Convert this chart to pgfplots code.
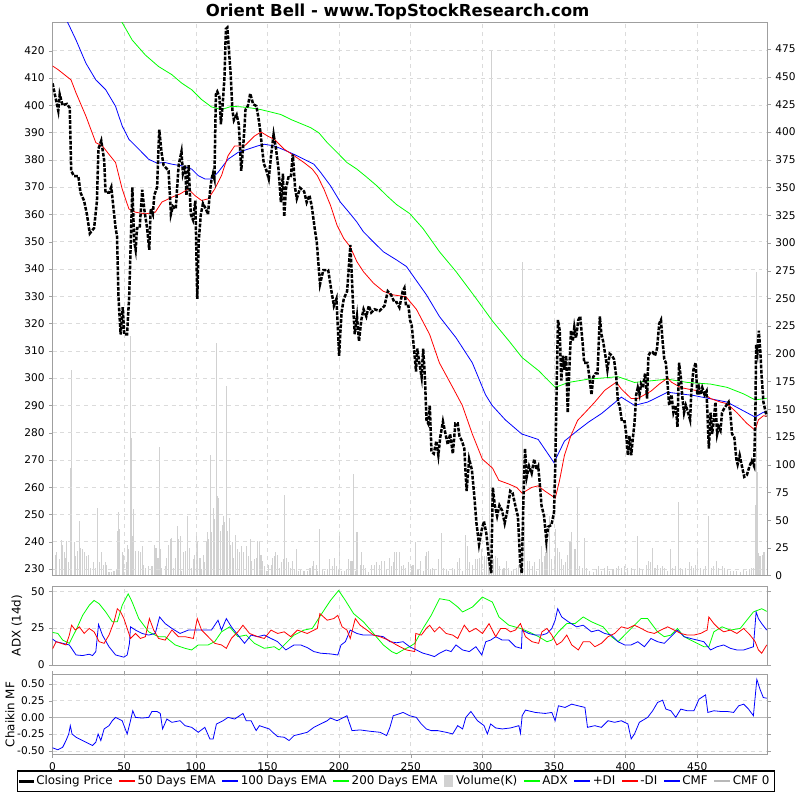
\documentclass[border=0pt]{standalone}
\usepackage{pgfplots}
\pgfplotsset{compat=1.18}
\usepackage{fontspec}
\setmainfont{DejaVu Sans}
\definecolor{emagreen}{rgb}{0,1,0}
\definecolor{volgray}{rgb}{0.82,0.82,0.82}
\definecolor{legred}{rgb}{1,0,0}
\definecolor{legblue}{rgb}{0,0,1}
\definecolor{leggray}{rgb}{0.72,0.72,0.72}
\pgfplotsset{
  panel/.style={scale only axis, width=540.75pt, xmin=0, xmax=499,
    axis line style={gray!75}, tick style={gray!75}, major tick length=2.5pt,
    tick align=outside, xtick={0,50,...,450},
    tick label style={font=\fontsize{8}{9}\selectfont},
    /pgf/number format/assume math mode=true, clip=true},
  gridded/.style={grid=major, grid style={dashed, gray!28, line width=0.4pt}},
}
\begin{document}
\begin{tikzpicture}
\fill[white] (0pt,0pt) rectangle (600pt,-600pt);
\node[font=\bfseries\fontsize{12.5}{14}\selectfont] at (300.75pt,-9pt) {Orient Bell - www.TopStockResearch.com};

% ---------- volume (right axis) ----------
\begin{axis}[panel, at={(39.75pt,-16.5pt)}, anchor=north west, height=418.5pt,
  ymin=0, ymax=499, ytick={0,25,...,475}, axis y line*=right, axis x line=none]
\addplot[ycomb, volgray, line width=0.8pt] coordinates {
(2,19) (3,21) (5,15) (6.4,32) (7.1,28) (8.3,21) (9,16) (9.9,31) (11.3,12) (12.2,97) (13.4,185) (15.2,30) (15.9,18) (17.5,22) (18.7,49) (19.8,25) (21,24) (22.1,21) (23.7,18) (25.1,19) (26.7,7) (28.3,12) (29.7,7) (31.3,61) (32.5,12) (34.1,21) (35.3,10) (36.7,12) (37.6,10) (39.4,3) (41,3) (42.9,4) (44.5,6) (45.2,40) (46.3,57) (47,42) (48.6,21) (49.8,19) (51.4,12) (52.3,28) (53.3,24) (54.2,216) (54.9,124) (55.6,36) (56.7,60) (57.9,22) (59.7,22) (61.3,21) (62.5,27) (63.6,10) (64.8,7) (67.1,9) (69.4,9) (71.3,28) (72.2,25) (73.6,16) (74.5,116) (75.2,24) (76.3,7) (78.6,9) (79.8,16) (80.9,28) (82.1,33) (82.8,34) (84.4,7) (85.6,16) (87.2,45) (87.9,33) (89,36) (90.2,4) (91.3,21) (92.5,22) (94.3,54) (95.9,25) (97.1,7) (98.3,15) (99.4,19) (100.6,39) (101.2,30) (102.9,16) (104,6) (105.2,19) (106.3,12) (107.5,30) (108.2,39) (109.1,33) (110.3,109) (111,39) (112.1,61) (113.3,51) (114.4,210) (115.1,72) (116,70) (117.2,40) (118.3,46) (119.5,54) (120.2,48) (121.3,171) (122,40) (123.2,52) (124.3,28) (125.5,30) (126.6,16) (127.5,37) (128.9,24) (130.5,21) (132.2,27) (133.5,21) (135.2,27) (136.8,18) (138.2,33) (139.1,13) (140.9,15) (142.1,16) (143.2,31) (144.4,30) (145.5,19) (146.7,13) (147.8,9) (149.7,4) (150.6,10) (152.5,10) (153.6,16) (154.8,18) (155.9,21) (157.1,19) (158.2,7) (159.8,12) (161,15) (162.1,73) (163.3,16) (164.4,12) (166.3,7) (167.7,13) (169.1,6) (170.2,24) (171.6,4) (173.2,6) (175.5,4) (177.8,4) (179.7,7) (181.3,9) (182.4,13) (184.1,10) (185.2,4) (186.4,42) (188.2,6) (189.8,4) (191.7,6) (193.5,15) (195.1,9) (196.8,16) (198.1,9) (199.7,6) (200.4,37) (202,4) (203.7,4) (205,6) (206.7,15) (207.8,13) (209,13) (209.9,92) (211.3,4) (212,39) (213.1,39) (214.7,10) (215.9,21) (217,10) (218.2,7) (220.5,3) (222.8,10) (224.4,10) (226.3,12) (228.1,10) (229.7,13) (231.4,13) (233.2,6) (235,16) (236.7,9) (237.8,12) (239,21) (240.1,21) (242,21) (243.6,9) (244.7,10) (246.6,7) (248.2,12) (250.5,9) (251.6,10) (253.5,30) (255.1,6) (256.7,13) (258.6,4) (260.4,18) (261.3,21) (262.7,22) (263.6,6) (265,7) (266.6,6) (269.6,15) (271.2,38) (272.9,7) (274.7,6) (276.5,4) (278.9,7) (280.5,6) (282.8,12) (283.9,16) (286.2,4) (288.1,37) (289.7,27) (291.3,12) (293.2,10) (295.5,15) (296.6,15) (298.2,16) (299.6,24) (301.2,18) (302.8,18) (304.2,16) (305.2,139) (306.2,474) (308.1,15) (309.3,18) (310.5,16) (312.1,9) (313.9,6) (315.1,7) (316.7,13) (318.5,7) (320.4,4) (322,6) (323.6,7) (325.5,10) (326.6,4) (328.2,283) (329.6,48) (331.2,13) (332.8,13) (334.7,9) (336.5,12) (338.1,4) (339.8,15) (341.1,27) (342.3,12) (343.4,18) (344.4,21) (345.1,28) (345.8,28) (346.7,54) (348.5,15) (350.4,15) (351.3,42) (352.7,25) (353.6,21) (355,15) (356.6,10) (358.2,12) (359.6,19) (361.2,30) (362.4,39) (364.2,24) (365.1,24) (366.5,80) (368.1,9) (369.7,7) (371.1,34) (372.7,7) (375,4) (377.4,3) (379.7,6) (381.3,9) (383.1,4) (385,7) (387.3,9) (388.9,4) (391.2,6) (393.5,7) (395.1,9) (397,7) (399.3,9) (401.6,7) (403.9,7) (406.2,6) (408,36) (409.7,7) (412,6) (414.3,10) (415.9,13) (417.3,12) (418.9,25) (420.5,7) (422.3,10) (424.2,7) (425.8,9) (427.4,7) (429.3,4) (431.1,24) (432.7,7) (435,9) (436.6,66) (438,7) (439.6,6) (441.9,7) (444.3,12) (445.9,9) (447.7,7) (448.9,10) (450.5,22) (452.3,7) (454.2,6) (455.8,9) (458.1,54) (459.7,7) (461.6,9) (463.4,13) (465,7) (467.3,9) (468.9,7) (470.8,6) (473.1,4) (475.4,4) (477.7,4) (480,3) (482.3,6) (484.6,4) (486.5,6) (488.1,7) (489.2,7) (490.5,64) (491.1,274) (492,93) (493,20) (493.8,18) (495.7,19) (496.6,21)
};
\end{axis}

% ---------- price (left axis) ----------
\begin{axis}[panel, gridded, at={(39.75pt,-16.5pt)}, anchor=north west, height=418.5pt,
  ymin=227.6, ymax=430.4, ytick={230,240,...,420}, axis y line*=left,
  xticklabels={}, xtick style={draw=none}]
\addplot[emagreen, line width=0.6pt] coordinates {
(0,476) (20,454) (48.6,430.3) (55.6,423.9) (64.8,418.4) (74,414.2) (83.3,411.2) (90.2,408.1) (97.1,405.7) (104,402.1) (110.9,399.4) (117.9,398.4) (124.8,399.6) (131.7,399.4) (138.6,399) (145.5,398.4) (152.5,397.5) (159.4,396.6) (166.3,394.8) (173.2,393.3) (180.1,391.8) (185.9,389.9) (191.7,386.3) (198.6,382.7) (205.5,379) (212.4,376.6) (219.4,373.6) (226.3,370.5) (233.2,366.9) (240.1,363.6) (249.3,360.3) (258.6,354.8) (270.1,346.3) (281.7,339) (295.5,329.3) (307.1,320.9) (318.6,313.6) (327.8,307.5) (339.3,302.7) (350.9,296.6) (360.1,298.4) (373.9,299.6) (394.7,300.5) (406.2,298.4) (429.3,299.6) (443.1,298.4) (459.3,297.8) (470.8,296.6) (482.4,294.2) (490.4,292) (498.5,292.6)
};
\addplot[blue, line width=0.6pt] coordinates {
(0,442) (10.6,430.3) (16.4,423.9) (23.3,415.4) (30.2,409.3) (37.1,405.7) (44,399.6) (48.6,392.4) (53.3,387.5) (60.2,383.9) (67.1,380.2) (72.9,378.8) (78.6,379) (83.3,378.4) (90.2,377.8) (97.1,376.6) (101.7,374.2) (106.3,373) (110.9,373) (115.5,375.4) (122.5,380.2) (129.4,382.7) (136.3,383.9) (143.2,385.1) (147.8,385.7) (154.8,385.1) (161.7,383.6) (168.6,382) (175.5,380.2) (182.4,378.4) (187.1,375.4) (194,370.5) (200.9,364.5) (207.8,360.2) (212.4,357.2) (217,353.6) (224,349.9) (230.9,346.3) (240.1,343.3) (247,340.9) (261,330.5) (270,322.6) (281.6,314.8) (293,305.6) (302.2,293.9) (306.8,290) (316,284.7) (327.5,279.5) (339,277.5) (350,269) (357.3,276.9) (366.5,280.8) (374.5,284) (383.2,287) (397,293) (406.2,290) (415.4,291.2) (429.3,294.8) (447.8,293.6) (470.8,291.2) (490.4,285.7) (496.2,287.5) (498.5,287)
};
\addplot[red, line width=0.6pt] coordinates {
(0,414.4) (4,413) (12.9,409.3) (16.4,404.5) (23.3,396) (30.2,386.3) (34.8,385.1) (39.4,382) (44,379) (48.6,369.3) (53.3,362) (57.9,360.8) (64.8,360.2) (71.7,360.8) (76.3,364.5) (83.3,366.3) (89,367.5) (94.8,369.3) (99.4,366.9) (104,365.1) (108.6,365.7) (113.2,369.3) (117.9,374.2) (122.5,381.5) (127.1,385.1) (134,385.1) (140.9,388.7) (145.5,390.2) (150.2,388.7) (154.8,387.5) (161.7,383.9) (168.6,381.5) (175.5,379) (181.3,376.6) (184.8,374.2) (189.4,369.3) (194,363.3) (198.6,356) (203.2,351.2) (207.8,348.1) (212.4,342.7) (217,339) (224,334.8) (230.9,331.8) (237.8,330.5) (246.7,329.8) (254,325.2) (263.2,316) (270,305.6) (279.4,296.5) (286,290) (293,279.5) (300,270.3) (307.1,267) (311.5,262.5) (318.3,261.2) (324,259.9) (327.8,257.8) (334.4,259.9) (339,260.5) (343.6,258.6) (350.9,256) (353.9,262.5) (357.3,271.7) (361.9,279) (366.5,284.5) (371.6,287.3) (378.5,291.2) (385.4,295.5) (393.5,298.5) (397,296) (403.9,292.5) (408.5,292.5) (417.7,295.2) (423.5,297.8) (429.3,300) (432,298.5) (438.5,296.5) (445.4,295.8) (452.3,295.2) (459.3,292.5) (466.2,291.2) (470.8,290.6) (477.7,287.3) (484.6,283.4) (490.4,280.9) (492.7,284.7) (496.2,286.2) (498.5,286)
};
\addplot[black, line width=1.9pt, dash pattern=on 2.8pt off 1.1pt] coordinates {
(0,408) (1.6,404) (4,398) (5,404) (7,400) (10,400.5) (12,399) (13,376) (15,374) (18,374) (19.5,368) (22,365) (24,360) (26,353) (29,355) (31,365) (32,384) (34,387) (36,380) (37,368) (39.5,368) (41,370) (42.6,362) (44,355) (45,352) (46,330) (47.5,316) (49,326) (50,316) (52,316) (53.5,330) (55.7,370) (57,350) (58,347) (59,355) (60.8,355) (62.6,369) (64,362) (66,355) (67.5,347) (68.5,362) (70,360) (71,367) (73,370) (74,385) (74.5,391) (76,383) (77.5,378) (81,376) (82.6,360) (84,363) (86,362) (88,378) (90,383) (91,375) (92.5,378) (93.5,367) (95,378) (96.5,360) (98,358) (99.7,365) (101,329) (102,350) (103.5,360) (105,364) (107,362) (108.5,360) (110,369) (111,373) (112,375) (113,373) (114,404) (115,405) (116.5,403) (117.5,393) (118.7,400) (120,410) (121,428)
(122,428.5) (124.3,411.5) (125.5,398.4) (126.6,394.5) (128.5,396.5) (130,393) (131.7,376) (133.5,388) (134.7,398.4) (136.3,399.7) (138,404.3) (140,400.4) (142.3,399.7) (144,394.5) (145,390.6) (147.4,378.8) (149.3,376) (150.9,373) (152.5,381.4) (154.3,389.3) (156,384) (157.8,376.2) (159.4,364.4) (160.8,374.9) (161.7,359.2) (163,369.7) (164.7,373.6) (166.3,373.6) (167.7,382) (169.3,369.7) (170.5,365.8) (172.8,369.7) (175.6,368.4) (177.4,364.4) (179.3,367) (180.9,363.1) (183.2,354) (184.4,350) (186.7,334.4) (189,339.6) (192.4,339.6) (194.7,331.8) (196.4,326.5) (198.2,329.1) (200,308.2) (201.7,324) (203.3,329.1) (205.6,331.8) (207.9,348.8) (209.8,326.5) (210.9,316.1) (212.5,322.6) (213.9,313.5) (215.5,321.3) (217.1,325.2) (219,322.6) (220.8,326.5) (222.5,324) (224.8,325.2) (228.2,324.6) (231.7,326.5) (234,331.8) (236.3,330.5) (238.6,327.8) (240.2,327.8) (242.1,325.9) (244.4,331.8) (245.6,333) (246.7,326.5) (248.4,326.5)
(249.5,321.3) (250.7,319.3) (252.3,310.8) (253.7,302.4) (254.6,310.8) (256,305.6) (257.6,300.4) (258.7,310.8) (259.9,300.4) (261,284.7) (262.2,283.4) (263.3,290) (264.5,273) (266.1,272.3) (267.9,276.9) (269.3,271.7) (270.6,278.3) (272.5,284.1) (274.3,279.5) (275.9,275.6) (277.5,279.5) (279.4,272.3) (281.2,283.4) (282.8,283.4) (284,278.8) (285.8,276.9) (287.4,274.2) (289,258.6) (290.8,270.3) (292.7,266.4) (294.3,257.3) (295.9,246.8) (297.7,239) (299.5,244.2) (301.1,247.5) (302.8,243) (304.6,233.9) (306.2,228.5) (307.3,259.9) (308.7,253.3) (310.3,249.4) (311.9,253.3) (313.8,251.4) (315.6,246.8) (317.2,250.7) (319.5,258.6) (321.1,257.9) (323,253.3) (324.8,249.4) (326.4,232.4) (327.5,228.5) (328.7,256) (329.8,274.2) (331,263.8) (332.6,267.7) (334.4,265.1) (336.2,270.3) (337.8,266.4) (339,267.7) (340.1,261.2) (341.3,253.3) (343.1,249.4) (344.7,240.3) (345.9,245.5) (348.2,246.1) (350,250.7) (350.9,267.7) (351.9,297.8) (352.8,321.3) (354,317.4) (355.1,299.1) (356.2,308.2) (357.3,303) (358.5,308.2) (359.6,287.3) (360.8,304.3) (361.9,317.4) (363.1,313.5) (364.2,318.7) (365.4,314.8) (367,321.3) (368.3,322.6) (369.9,313.5) (371.1,305.6)
(373.4,305.6) (375,299.1) (376.2,293.9) (377.4,300.4) (379,301.7) (380.4,301.7) (382,322.6) (383.1,316.1) (384.3,313.5) (385.9,308.2) (387.3,303) (388.9,308.9) (390.5,308.2) (391.9,306.9) (393.5,300.4) (394.7,291.2) (395.8,290) (397.4,284.1) (399.3,284.1) (400.4,279.5) (401.6,271.7) (402.7,278.8) (403.9,271.7) (405.1,278.2) (406.2,283.4) (407.4,293.9) (408.5,296.5) (409.7,293.9) (410.8,297.8) (412,296.5) (413.6,301.7) (415,292.5) (415.9,308.2) (417.3,309.5) (418.9,309.5) (420.5,308.2) (421.9,310.8) (423.5,320) (424.7,321.3) (425.8,313.5) (427,306.9) (428.1,305.6) (429.3,297.8) (430.4,290) (432,293.9) (433.4,287.3) (435,290) (436.2,282.1) (437.3,305.6) (438.5,300.4) (439.7,292.5) (440.8,287.3) (442,290) (443.6,287.3) (445,284.7) (445.9,295.2) (447.3,303) (448.9,305.6) (450,293.9) (451.2,296.5) (452.3,293.9) (453.5,296.5) (455.1,293.9) (456.5,295.2) (458.1,274.2) (459.3,287.3) (460.4,279.5) (461.6,284.7) (462.7,291.2) (463.9,279.5) (465,282.1) (466.2,280.8) (467.3,287.3) (468.5,288.6) (470.3,290) (471.9,291.2) (473.1,287.3) (474.3,279.5) (475.9,278.2) (477.3,270.3) (478.2,268.4) (479.6,271.7) (481.2,267.7) (482.8,263.8) (484.6,264.4) (486.5,267.7) (488.1,269.7) (489.7,267.7) (490.6,287.3) (491.1,312.2) (492,309.5) (493,317.4) (493.9,310.8) (495,300.4) (496.2,291.2) (497.3,288.6) (498.5,286)
};
\end{axis}

% ---------- ADX ----------
\begin{axis}[panel, gridded, at={(39.75pt,-443pt)}, anchor=north west, height=59.5pt,
  ymin=0, ymax=53.4, ytick={0,25,50}, xticklabels={}, xtick style={draw=none},
  ylabel={ADX (14d)}, ylabel style={at={(axis description cs:-0.0499,0.5)}, anchor=center, font=\fontsize{9}{10}\selectfont}]
\addplot[emagreen, line width=0.6pt] coordinates {
(0,22) (3.7,21.3) (7.1,16.8) (11.7,14.6) (16.4,23.6) (21,33.6) (25.6,40.4) (29,43.7) (32.5,41.5) (37.1,35.9) (41.7,29.2) (45.2,29.2) (48.6,40.4) (52.8,48.2) (55.6,42.6) (60.2,31.4) (67.1,22.4) (74,19.1) (78.6,19.1) (85.6,13.5) (92.5,11.2) (97.1,10.1) (101.7,13.5) (108.6,13.5) (113.2,15.7) (117.9,22.4) (123.6,25.8) (129.4,19.1) (135.2,20.2) (140.9,14.6) (147.8,11.2) (154.8,12.3) (158.2,10.1) (162.8,14.6) (168.6,20.2) (175.5,23.6) (181.3,24.7) (187.1,33.6) (194,43.7) (199.7,50.5) (204.4,43.7) (210.1,34.8) (217,29.2) (224,21.3) (230.9,13.5) (236.7,9) (240.1,7.5) (244.7,10.1) (249.3,12.3) (252.8,14.6) (258.6,24.7) (264.3,33.6) (270.1,44.9) (277,43.7) (282.8,39.3) (286.2,35.9) (293.2,39.3) (300.1,46) (307,42.6) (311.6,32.5) (318.5,26.9) (326.6,24.7) (332.4,22.4) (339.3,19.1) (345.1,15.7) (348.5,16.8) (353.1,22.4) (358.9,28) (364.7,28) (370.4,32.5) (376.2,29.2) (384.3,25.8) (390.1,19.1) (394.7,15.7) (399.3,20.2) (405,25.8) (410.8,31.4) (415.4,31.4) (422.3,22.4) (427,19.1) (431.6,20.2) (436.2,24.7) (440.8,19.1) (447.7,15.7) (454.6,12.3) (458.1,12.3) (461.6,22.4) (467.3,25.8) (473.1,23.6) (480,24.7) (484.6,30.3) (489.2,35.9) (495,38.1) (498.5,36.3)
};
\addplot[blue, line width=0.6pt] coordinates {
(0,17.5) (2.5,15.7) (7.1,14.6) (11.7,13.5) (16.4,6.7) (21,6.3) (25.6,7.2) (27.9,6.3) (30.2,9) (32.1,27.4) (34.8,20.2) (39.4,12.3) (44,6.7) (49.8,5.2) (52.1,6.7) (53.7,14.6) (54.4,25.8) (57.9,23.6) (62.5,21.3) (67.1,20.2) (71.7,21.3) (74.7,32.5) (78.6,28) (83.3,24.7) (89,21.3) (94.8,23.6) (100.6,23.6) (110.9,23.6) (115.5,30.3) (117.9,23.6) (121.3,31.4) (124.8,25.8) (129.4,20.2) (134,14.6) (138.6,20.2) (143.2,19.1) (147.8,20.2) (152.5,17.9) (157.1,15.7) (162.8,10.1) (168.6,13.5) (173.2,13.5) (177.8,11.7) (182.4,9) (187.1,7.9) (194,7.4) (199.1,6.7) (201.4,13.5) (204.4,15.7) (207.8,23.6) (212.4,21.3) (217,20.2) (224,20.2) (230.9,19.1) (235.5,15.7) (240.1,15) (244.7,15.7) (249.3,12.3) (253.9,10.1) (258.6,7.9) (263.2,6.7) (266.6,5.6) (270.1,7.9) (274.7,10.1) (278.2,9) (281.6,13.5) (286.2,10.1) (290.9,9) (295.5,12.3) (299.6,6.7) (302.4,15.7) (305.8,16.8) (309.3,19.1) (313.9,16.8) (318.5,16.8) (323.1,12.3) (327.3,11.2) (327.8,23.6) (332.4,21.3) (337,20.2) (341.6,20.2) (345.1,21.3) (348.5,24.7) (350.8,30.3) (352.6,38.1) (355.4,32.5) (360.1,29.2) (365.8,25.8) (370.4,26.9) (376.2,22.4) (380.8,23.6) (385.4,21.3) (390.1,20.2) (394.7,15.7) (399.3,13.5) (403.9,13.5) (408.5,15.7) (413.1,12.3) (417.7,17.9) (422.3,15.7) (427,14.6) (431.6,19.1) (436.2,23.6) (440.8,19.1) (445.4,17.9) (450,16.8) (454.6,15.7) (459.3,10.1) (463.9,12.3) (468.5,13.5) (473.1,11.2) (477.7,10.1) (482.4,10.1) (489.2,12.3) (491.1,35.9) (492.7,31.4) (495,28) (498.5,23.6)
};
\addplot[red, line width=0.6pt] coordinates {
(0,10.8) (2.5,15.7) (6,14.6) (9.4,13.5) (11.7,20.2) (13.3,26.9) (15.9,23.6) (18.7,25.8) (22.1,21.3) (25.6,24.7) (29,22.4) (32.5,15.7) (36,14.6) (39.4,20.2) (42.9,29.2) (45.2,38.1) (47.5,35.9) (49.8,31.4) (52.1,24.7) (54.4,17.9) (57.9,21.3) (61.3,17.9) (64.8,19.1) (67.6,31.4) (70.6,23.6) (74,17.9) (78.6,16.8) (83.3,23.6) (87.9,19.1) (92.5,19.1) (98.3,17.9) (101,31.4) (104,23.6) (108.6,19.1) (113.2,14.6) (117.9,13.5) (121.3,11.2) (124.8,17.9) (129.4,22.4) (132.9,26.9) (137.5,21.3) (143.2,19.1) (147.8,17.9) (152.5,23.6) (157.1,21.3) (161.7,22.4) (166.3,19.1) (170.9,23.6) (177.8,21.3) (184.8,24.7) (186.6,34.8) (191.7,30.3) (196.3,31.4) (199.1,33.6) (202.1,25.8) (205.5,23.6) (207.8,17.9) (211.3,31.4) (214.7,26.9) (219.4,23.6) (224,20.2) (228.6,19.1) (234.4,16.8) (240.1,13.5) (247,10.1) (252.8,9) (253.5,21.3) (257.4,20.2) (260.9,24.7) (263.2,26.9) (266.6,22.4) (270.1,25.8) (274.7,21.3) (279.3,20.2) (282.8,17.9) (287.4,26.9) (290.9,22.4) (295.5,24.7) (300.1,21.3) (304.7,28) (309.3,19.1) (312.8,24.7) (316.2,24.7) (319.7,22.4) (323.1,23.6) (326.6,28) (330.1,19.1) (334.7,15.7) (339.3,14.6) (341.6,22.4) (345.1,24.7) (348.5,20.2) (352,13.5) (355.4,15.7) (358.9,20.2) (362.4,13.5) (367,10.1) (370.4,15.7) (375,15.7) (378.5,12.3) (383.1,14.6) (387.7,19.1) (392.4,21.3) (397,25.8) (401.6,24.7) (406.2,26.9) (410.8,24.7) (415.4,22.4) (420,21.3) (424.6,23.6) (429.3,25.8) (433.9,23.6) (438.5,21.3) (443.1,20.2) (447.7,20.2) (452.3,21.3) (456.9,23.6) (458.1,32.5) (461.6,28) (465,24.7) (468.5,22.4) (473.1,23.6) (477.7,21.3) (482.4,24.7) (486.9,20.2) (490.4,15.7) (492.7,10.1) (495,7.9) (498.5,13.5)
};
\end{axis}

% ---------- CMF ----------
\begin{axis}[panel, gridded, at={(39.75pt,-510pt)}, anchor=north west, height=60.2pt,
  ymin=-0.553, ymax=0.638, ytick={-0.5,-0.25,0,0.25,0.5},
  yticklabel style={/pgf/number format/.cd, fixed, fixed zerofill, precision=2},
  ylabel={Chaikin MF}, ylabel style={at={(axis description cs:-0.0596,0.5)}, anchor=center, font=\fontsize{9}{10}\selectfont},
  legend columns=-1,
  legend style={at={(axis description cs:0.48,-0.339)}, anchor=center, line width=0.9pt,
    font=\fontsize{9}{10}\selectfont, inner sep=1.6pt, row sep=0pt,
    /tikz/every even column/.append style={column sep=3pt}}]
\addplot[gray!55, line width=0.6pt, forget plot] coordinates {(0,0) (499,0)};
\addplot[blue, line width=0.6pt, forget plot] coordinates {
(0,-0.455) (3.7,-0.485) (7.1,-0.446) (9.4,-0.347) (11.3,-0.248) (12.4,-0.124) (13.6,-0.248) (16.4,-0.297) (21,-0.347) (25.6,-0.396) (27.9,-0.421) (30.2,-0.371) (31.8,-0.248) (33.7,-0.347) (36,-0.173) (39.4,-0.124) (41.7,-0.05) (44,0) (46.3,-0.025) (48.6,-0.05) (52.1,-0.248) (54.4,-0.05) (56,0.099) (57.9,0) (62.5,-0.01) (67.1,0) (69.4,0.089) (72.9,0.089) (75.2,0.059) (76.8,-0.173) (79.8,-0.025) (83.3,-0.074) (89,-0.05) (92.5,-0.124) (97.1,-0.149) (101.7,-0.223) (106.3,-0.149) (109.8,-0.322) (112.1,-0.322) (114.4,-0.099) (119,-0.05) (122.5,0) (127.1,-0.025) (132.9,0.059) (135.2,-0.05) (138.6,-0.05) (142.1,-0.198) (144.4,-0.124) (147.8,-0.149) (151.3,-0.173) (153.6,-0.223) (157.1,-0.287) (161.7,-0.297) (165.1,-0.347) (168.6,-0.272) (173.2,-0.248) (177.8,-0.223) (182.4,-0.149) (187.1,-0.099) (191.7,-0.05) (194,-0.01) (198.6,-0.05) (203.2,0) (205.5,0.025) (209,-0.198) (214.7,-0.188) (221.7,-0.208) (228.6,-0.223) (233.2,-0.272) (235.5,-0.149) (237.8,0.025) (240.1,0.04) (244.7,0.074) (249.3,0.025) (253.9,0) (257.4,-0.099) (260.9,-0.173) (264.3,-0.198) (268.9,-0.198) (274.7,-0.223) (279.3,-0.248) (282.8,-0.124) (286.2,-0.173) (288.5,0) (292,0.089) (296.6,-0.05) (301.2,-0.124) (303.5,-0.248) (305.8,-0.099) (309.3,-0.158) (313.9,-0.173) (319.7,-0.158) (325.5,-0.124) (326.6,-0.238) (327.8,0.025) (330.1,0.109) (337,0.074) (343.9,0.059) (348.5,0.074) (350.8,-0.05) (353.1,0.173) (357.7,0.149) (362.4,0.198) (367,0.173) (371.6,0.149) (373.4,-0.149) (378.5,-0.124) (383.1,-0.149) (387.7,-0.05) (392.4,-0.074) (397,-0.05) (401.6,-0.099) (403.9,-0.322) (406.2,-0.248) (409.6,-0.074) (415.4,0) (418.9,0.099) (422.3,0.223) (425.8,0.257) (428.1,0.124) (431.6,0.099) (435,0) (438.5,0.124) (443.1,0.099) (447.7,0.099) (451.2,0.272) (455.8,0.337) (457.4,0.074) (461.6,0.099) (466.2,0.089) (470.8,0.089) (475.4,0.074) (478.9,0.173) (482.4,0.198) (485.8,0.124) (489.2,0.025) (491.6,0.569) (493.8,0.421) (496.1,0.297) (498.5,0.287)
};
\addlegendimage{legend image code/.code={\fill[black] (0pt,-0.6pt) rectangle (2.6pt,0.6pt); \fill[black] (3.7pt,-0.6pt) rectangle (6.3pt,0.6pt); \fill[black] (7.4pt,-0.6pt) rectangle (10pt,0.6pt);}}
\addlegendentry{Closing Price}
\addlegendimage{legend image code/.code={\fill[legred] (0pt,-0.3pt) rectangle (11pt,0.3pt);}}
\addlegendentry{50 Days EMA}
\addlegendimage{legend image code/.code={\fill[legblue] (0pt,-0.3pt) rectangle (11pt,0.3pt);}}
\addlegendentry{100 Days EMA}
\addlegendimage{legend image code/.code={\fill[emagreen] (0pt,-0.3pt) rectangle (11pt,0.3pt);}}
\addlegendentry{200 Days EMA}
\addlegendimage{legend image code/.code={\fill[volgray] (1pt,-4pt) rectangle (7pt,4pt);}}
\addlegendentry{Volume(K)}
\addlegendimage{legend image code/.code={\fill[emagreen] (0pt,-0.3pt) rectangle (11pt,0.3pt);}}
\addlegendentry{ADX}
\addlegendimage{legend image code/.code={\fill[legblue] (0pt,-0.3pt) rectangle (11pt,0.3pt);}}
\addlegendentry{+DI}
\addlegendimage{legend image code/.code={\fill[legred] (0pt,-0.3pt) rectangle (11pt,0.3pt);}}
\addlegendentry{-DI}
\addlegendimage{legend image code/.code={\fill[legblue] (0pt,-0.3pt) rectangle (11pt,0.3pt);}}
\addlegendentry{CMF}
\addlegendimage{legend image code/.code={\fill[leggray] (0pt,-0.3pt) rectangle (11pt,0.3pt);}}
\addlegendentry{CMF 0}
\end{axis}
\end{tikzpicture}
\end{document}
